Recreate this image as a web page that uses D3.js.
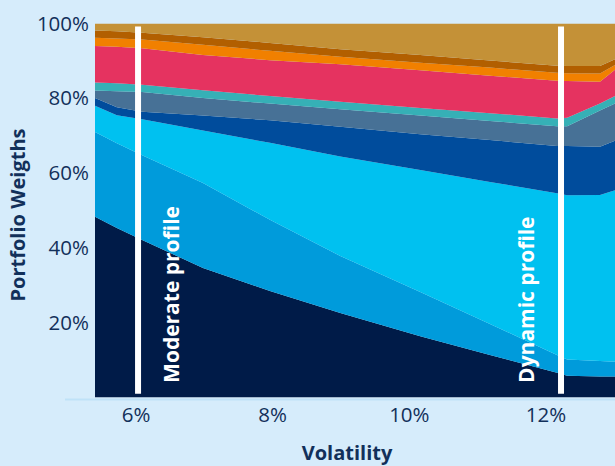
<!DOCTYPE html>
<html>
<head>
<meta charset="utf-8">
<script src="https://cdn.jsdelivr.net/npm/d3@7"></script>
<style>
  html, body { margin: 0; padding: 0; background: #d6ecfb; }
  svg { display: block; }
  text { font-family: "Open Sans", "Noto Sans", sans-serif; }
</style>
</head>
<body>
<svg id="chart" width="615" height="466"></svg>
<script>
// Efficient-frontier allocation: portfolio weights (%) per asset class at each volatility level
const volatility = [5.40, 5.72, 6.09, 6.98, 7.96, 8.99, 10.16, 11.18, 12.16, 12.31, 12.79, 13.01];

const asset1  = [48.3, 45.3, 42.1, 34.6, 28.5, 22.6, 16.4, 11.4, 6.6, 5.8, 5.6, 5.6];
const asset2  = [22.7, 22.7, 22.7, 22.7, 19.0, 15.2, 11.8, 8.3, 4.8, 4.4, 4.2, 4.0];
const asset3  = [7.0, 7.5, 9.6, 14.0, 20.6, 26.6, 32.6, 38.0, 43.3, 43.9, 44.4, 45.9];
const asset4  = [2.1, 2.1, 2.0, 4.0, 6.0, 7.9, 9.6, 11.2, 12.6, 13.2, 12.9, 13.2];
const asset5  = [2.0, 4.3, 5.3, 4.7, 4.5, 4.7, 5.0, 5.1, 5.3, 5.3, 9.7, 10.0];
const asset6  = [2.1, 2.1, 1.9, 2.1, 2.0, 2.0, 2.0, 2.1, 2.1, 2.3, 1.9, 2.0];
const asset7  = [9.8, 9.8, 9.8, 9.4, 9.6, 10.0, 10.1, 10.0, 10.1, 9.8, 5.8, 7.0];
const asset8  = [2.2, 2.2, 2.3, 2.7, 2.5, 2.0, 2.0, 2.2, 2.1, 2.1, 2.2, 1.3];
const asset9  = [1.9, 1.9, 1.8, 2.0, 2.1, 2.0, 2.1, 1.9, 1.9, 1.9, 2.0, 1.5];
const asset10 = [1.9, 2.1, 2.5, 3.7, 5.2, 6.9, 8.4, 9.9, 11.3, 11.4, 11.4, 9.6];

const seriesKeys = ["asset1", "asset2", "asset3", "asset4", "asset5",
                    "asset6", "asset7", "asset8", "asset9", "asset10"];
const seriesValues = [asset1, asset2, asset3, asset4, asset5,
                      asset6, asset7, asset8, asset9, asset10];
const seriesColors = ["#001b48", "#009bdb", "#00c1f0", "#004c9c", "#477196",
                      "#36b0b6", "#e53360", "#f18000", "#b25f00", "#c49137"];

const xTickValues = [6, 8, 10, 12];
const yTickValues = [0.2, 0.4, 0.6, 0.8, 1.0];

const profileLabels = ["Moderate profile", "Dynamic profile"];
const profileVolatility = [6.03, 12.22];

// ---- layout
const W = 615, H = 466;
const plot = { left: 95, right: 615, top: 23.5, bottom: 397.5 };
const textDark = "#12305a";

const svg = d3.select("#chart");

const rows = volatility.map((v, i) => {
  const r = { vol: v };
  seriesKeys.forEach((k, j) => { r[k] = seriesValues[j][i]; });
  return r;
});

const x = d3.scaleLinear()
  .domain(d3.extent(volatility))
  .range([plot.left, plot.right]);

const y = d3.scaleLinear()
  .domain([0, 1])
  .range([plot.bottom, plot.top]);

const stack = d3.stack()
  .keys(seriesKeys)
  .offset(d3.stackOffsetExpand);
const layers = stack(rows);

const area = d3.area()
  .x(d => x(d.data.vol))
  .y0(d => y(d[0]))
  .y1(d => y(d[1]))
  .curve(d3.curveLinear);

svg.append("defs").append("clipPath").attr("id", "plotClip")
  .append("rect")
  .attr("x", plot.left).attr("y", plot.top)
  .attr("width", plot.right - plot.left)
  .attr("height", plot.bottom - plot.top);

svg.append("g")
  .attr("clip-path", "url(#plotClip)")
  .selectAll("path")
  .data(layers)
  .join("path")
  .attr("fill", (d, i) => seriesColors[i])
  .attr("d", area);

// baseline rule under the plot
svg.append("line")
  .attr("x1", 65).attr("x2", W)
  .attr("y1", plot.bottom + 2).attr("y2", plot.bottom + 2)
  .attr("stroke", "#bfe2f8")
  .attr("stroke-width", 2);

// profile markers
const profiles = svg.append("g");
profileLabels.forEach((label, i) => {
  const px = x(profileVolatility[i]);
  profiles.append("line")
    .attr("x1", px).attr("x2", px)
    .attr("y1", y(0.992)).attr("y2", y(0.01))
    .attr("stroke", "#ffffff")
    .attr("stroke-width", 6);
  const tx = i === 0 ? px + 41 : px - 27;
  profiles.append("text")
    .attr("transform", `translate(${tx},${y(0.039)}) rotate(-90)`)
    .attr("text-anchor", "start")
    .attr("fill", "#ffffff")
    .attr("font-size", 21)
    .attr("font-weight", 700)
    .text(label);
});

// y tick labels
const fmtPct = d3.format(".0%");
svg.append("g")
  .selectAll("text")
  .data(yTickValues)
  .join("text")
  .attr("x", plot.left - 6)
  .attr("y", d => y(d))
  .attr("dy", "0.35em")
  .attr("text-anchor", "end")
  .attr("fill", textDark)
  .attr("font-size", 20.5)
  .text(d => fmtPct(d));

// x tick labels
svg.append("g")
  .selectAll("text")
  .data(xTickValues)
  .join("text")
  .attr("x", d => x(d))
  .attr("y", 421.5)
  .attr("text-anchor", "middle")
  .attr("fill", textDark)
  .attr("font-size", 20.5)
  .text(d => d + "%");

// axis titles
svg.append("text")
  .attr("x", 347).attr("y", 460)
  .attr("text-anchor", "middle")
  .attr("fill", textDark)
  .attr("font-size", 20)
  .attr("font-weight", 700)
  .text("Volatility");

svg.append("text")
  .attr("transform", "translate(25,215) rotate(-90)")
  .attr("text-anchor", "middle")
  .attr("fill", textDark)
  .attr("font-size", 20)
  .attr("font-weight", 700)
  .text("Portfolio Weigths");
</script>
</body>
</html>
